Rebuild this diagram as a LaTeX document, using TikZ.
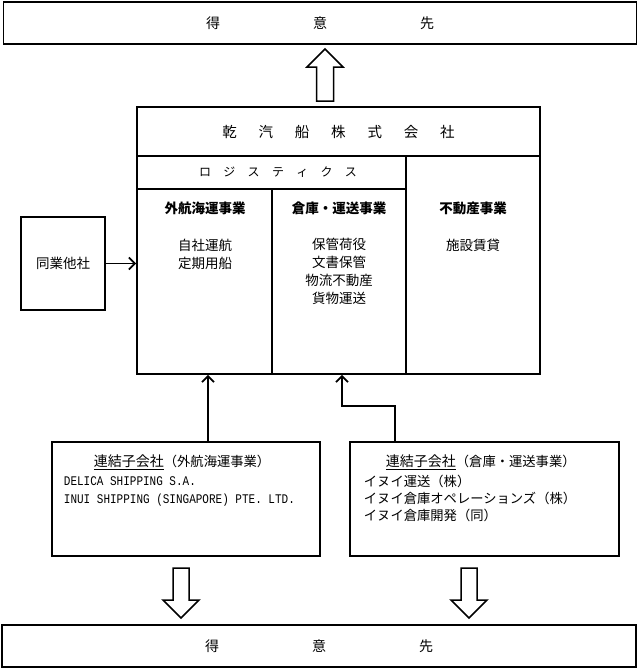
\documentclass[tikz,border=0pt]{standalone}
\usepackage{fontspec}
\usepackage{graphicx}
\setmainfont{Liberation Serif}
\newfontfamily\jp{Noto Sans CJK JP}
\newfontfamily\latmono{Liberation Mono}
\usetikzlibrary{arrows.meta}
\begin{document}
\begin{tikzpicture}[x=1pt,y=-1pt,line width=1.8pt,
  box/.style={draw,inner sep=0pt},
  conn/.style={-{Straight Barb[length=6pt,width=12pt]},line width=1.7pt},
  fat/.style={draw,fill=white,line width=1.5pt,line join=miter},
  txt/.style={inner sep=0pt,font=\jp\fontsize{13.5}{18}\selectfont,align=center},
  hdr/.style={inner sep=0pt,font=\jp\bfseries\fontsize{13.5}{16}\selectfont},
  sub/.style={inner sep=0pt,anchor=west,font=\jp\fontsize{13.3}{16}\selectfont},
  lat/.style={inner sep=0pt,anchor=west,font=\latmono\fontsize{11}{14}\selectfont}]
\useasboundingbox (0,0) rectangle (639,670);

% customers
\node[box,minimum width=633pt,minimum height=42pt] (top) at (320,23) {};
\node[txt,font=\jp\fontsize{14}{16}\selectfont] (toptxt) at (top.center) {得\hspace{93pt}意\hspace{93pt}先};
\node[box,minimum width=634pt,minimum height=42pt] (bot) at (319,646) {};
\node[txt,font=\jp\fontsize{14}{16}\selectfont] (bottxt) at (bot.center) {得\hspace{93pt}意\hspace{93pt}先};

% main company
\node[box,minimum width=403pt,minimum height=267pt] (main) at (338.5,240.5) {};
\draw (137,156) -- (540,156);
\draw (137,189) -- (406,189);
\draw (406,156) -- (406,374);
\draw[line width=1.4pt] (272,189) -- (272,374);
\node[txt,font=\jp\fontsize{14.5}{16}\selectfont] (title) at (338.5,132) {乾\hspace{21.8pt}汽\hspace{21.8pt}船\hspace{21.8pt}株\hspace{21.8pt}式\hspace{21.8pt}会\hspace{21.8pt}社};
\node[txt,font=\jp\fontsize{12}{14}\selectfont] (logi) at (278,172) {ロ\hspace{12.3pt}ジ\hspace{12.3pt}ス\hspace{12.3pt}テ\hspace{12.3pt}ィ\hspace{12.3pt}ク\hspace{12.3pt}ス};
\node[hdr] (h1) at (205,208) {外航海運事業};
\node[hdr] (h2) at (339,208) {倉庫・運送事業};
\node[hdr] (h3) at (473,208) {不動産事業};
\node[txt] (c1) at (205,254) {自社運航\\定期用船};
\node[txt] (c2) at (339,271.5) {保管荷役\\文書保管\\物流不動産\\貨物運送};
\node[txt] (c3) at (473,245) {施設賃貸};

% peer
\node[box,minimum width=84pt,minimum height=93pt] (peer) at (63,263.5) {};
\node[txt] (peertxt) at (peer.center) {同業他社};
\draw[conn] (peer.east) -- (peer.east -| main.west);

% subsidiaries
\node[box,minimum width=268pt,minimum height=114pt] (sub1) at (186,499) {};
\node[box,minimum width=269pt,minimum height=114pt] (sub2) at (484.5,499) {};
\node[sub,font=\jp\fontsize{14}{16}\selectfont] (s1a) at (93,462) {\underline{連結子会社}\fontsize{13.3}{14}\selectfont（外航海運事業）};
\node[lat] (s1b) at (63,481) {\scalebox{1}[1.2]{DELICA SHIPPING S.A.}};
\node[lat] (s1c) at (63,500) {\scalebox{1}[1.2]{INUI SHIPPING (SINGAPORE) PTE. LTD.}};
\node[sub,font=\jp\fontsize{14}{16}\selectfont] (s2a) at (385,462) {\underline{連結子会社}\fontsize{13.3}{14}\selectfont（倉庫・運送事業）};
\node[sub] (s2b) at (363,481) {イヌイ運送（株）};
\node[sub] (s2c) at (363,498) {イヌイ倉庫オペレーションズ（株）};
\node[sub] (s2d) at (363,515) {イヌイ倉庫開発（同）};

\coordinate (ga) at (208,374);
\draw[conn] (ga |- sub1.north) -- (ga |- main.south);
\coordinate (gb) at (342,374);
\coordinate (sb) at (395,406);
\draw[conn] (sb |- sub2.north) -- (sb) -| (gb |- main.south);

% hollow arrows
\draw[fat] (316.5,101) -- (316.5,67) -- (307,67) -- (325,49) -- (343,67) -- (333.5,67) -- (333.5,101) -- cycle;
\draw[fat] (173,568) -- (189,568) -- (189,600) -- (199,600) -- (181,618) -- (163,600) -- (173,600) -- cycle;
\draw[fat] (461,568) -- (477,568) -- (477,600) -- (487,600) -- (469,618) -- (451,600) -- (461,600) -- cycle;
\end{tikzpicture}
\end{document}
